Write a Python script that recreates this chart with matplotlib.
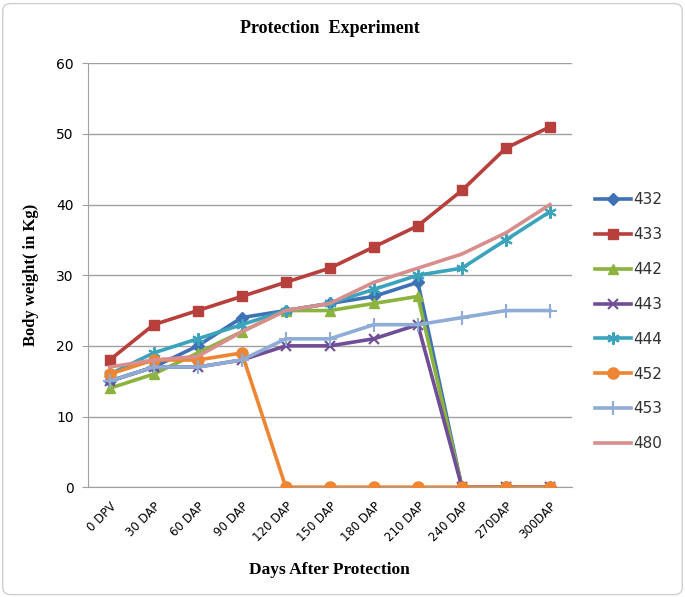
#!/usr/bin/env python3

import matplotlib.pyplot as plt
from matplotlib.patches import FancyBboxPatch
import numpy as np

days = ["0 DPV", "30 DAP", "60 DAP", "90 DAP", "120 DAP", "150 DAP",
        "180 DAP", "210 DAP", "240 DAP", "270DAP", "300DAP"]

w432 = [15, 17, 20, 24, 25, 26, 27, 29, 0, 0, 0]
w433 = [18, 23, 25, 27, 29, 31, 34, 37, 42, 48, 51]
w442 = [14, 16, 19, 22, 25, 25, 26, 27, 0, 0, 0]
w443 = [15, 17, 17, 18, 20, 20, 21, 23, 0, 0, 0]
w444 = [16, 19, 21, 23, 25, 26, 28, 30, 31, 35, 39]
w452 = [16, 18, 18, 19, 0, 0, 0, 0, 0, 0, 0]
w453 = [15, 17, 17, 18, 21, 21, 23, 23, 24, 25, 25]
w480 = [17, 18, 18.5, 22, 25, 26, 29, 31, 33, 36, 40]

series = [
    ("432", w432, "#3F72B5", "D", 6),
    ("433", w433, "#B8403C", "s", 7.5),
    ("442", w442, "#8DB33F", "^", 7.5),
    ("443", w443, "#6F4E96", "x", 7),
    ("444", w444, "#3BA3BC", (6, 2, 0), 9),
    ("452", w452, "#EE8532", "o", 8),
    ("453", w453, "#8EACD6", "+", 10),
    ("480", w480, "#D88E8C", "", 0),
]

serif = ["Liberation Serif", "DejaVu Serif"]

fig = plt.figure(figsize=(6.85, 5.97), dpi=100)
fig.patches.append(FancyBboxPatch((0.004, 0.004), 0.992, 0.99,
                                  boxstyle="round,pad=0,rounding_size=0.012",
                                  transform=fig.transFigure, fill=False,
                                  edgecolor="#D0D0D0", linewidth=1))
ax = fig.add_axes([0.128, 0.184, 0.707, 0.710])

x = np.arange(len(days))
for name, vals, col, mk, ms in series:
    ax.plot(x, vals, color=col, linewidth=2.6, marker=mk if mk else None,
            markersize=ms, markeredgewidth=1.5 if mk in ("x", "+", (6, 2, 0)) else 1,
            markeredgecolor=col, markerfacecolor=col, label=name, zorder=3)

ax.set_xlim(-0.5, len(days) - 0.5)
ax.set_ylim(0, 60)
ax.set_yticks(range(0, 61, 10))
ax.yaxis.grid(True, color="#A0A0A0", linewidth=1)
ax.set_axisbelow(True)
for s in ["top", "right"]:
    ax.spines[s].set_visible(False)
ax.spines["left"].set_color("#A0A0A0")
ax.spines["bottom"].set_color("#A0A0A0")
ax.tick_params(axis="y", length=4, color="#A0A0A0", labelsize=10, pad=6)
ax.tick_params(axis="x", length=0, labelsize=8.5, pad=9)
ax.set_xticks(x)
ax.set_xticklabels(days, rotation=45, ha="right", rotation_mode="anchor")

ax.set_title("Protection  Experiment", fontfamily=serif, fontweight="bold",
             fontsize=13, pad=22)
ax.set_ylabel("Body weight( in Kg)", fontfamily=serif, fontweight="bold",
              fontsize=12, labelpad=12)
ax.set_xlabel("Days After Protection", fontfamily=serif, fontweight="bold",
              fontsize=12.5, labelpad=13)

leg = ax.legend(loc="center left", bbox_to_anchor=(1.02, 0.39), frameon=False,
                fontsize=11, handlelength=2.3, handletextpad=0.2,
                labelspacing=1.3)
for t in leg.get_texts():
    t.set_color("#303030")

plt.savefig("out.png", dpi=100)
plt.close()
